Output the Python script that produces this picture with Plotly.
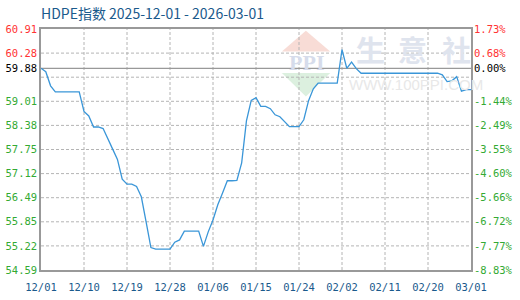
import plotly.graph_objects as go
import pandas as pd

title_text = "HDPE指数 2025-12-01 - 2026-03-01"
dates = pd.date_range("2025-12-01", "2026-03-01", freq="D")
values = [
    59.88, 59.79, 59.42, 59.26, 59.26, 59.26, 59.26, 59.26, 59.26, 58.75,
    58.63, 58.34, 58.34, 58.30, 58.01, 57.76, 57.49, 56.97, 56.84, 56.84,
    56.78, 56.51, 55.85, 55.18, 55.14, 55.14, 55.14, 55.14, 55.32, 55.38,
    55.61, 55.61, 55.61, 55.61, 55.21, 55.59, 55.90, 56.30, 56.61, 56.93,
    56.93, 56.94, 57.40, 58.50, 59.04, 59.11, 58.88, 58.88, 58.82, 58.66,
    58.61, 58.49, 58.35, 58.35, 58.35, 58.53, 59.03, 59.34, 59.49, 59.49,
    59.49, 59.49, 59.49, 60.37, 59.88, 60.04, 59.87, 59.75, 59.75, 59.75,
    59.75, 59.75, 59.75, 59.75, 59.75, 59.75, 59.75, 59.75, 59.75, 59.75,
    59.75, 59.75, 59.75, 59.75, 59.71, 59.53, 59.55, 59.66, 59.28, 59.32,
    59.32,
]
base_value = 59.88
y_min, y_max = 54.59, 60.91
grid_vals = [55.222, 55.854, 56.486, 57.118, 57.75, 58.382, 59.014, 59.646, 60.278]
left_tick_vals = [60.91, 60.278, 59.88, 59.014, 58.382, 57.75, 57.118, 56.486, 55.854, 55.222, 54.59]
left_tick_text = ["60.91", "60.28", "59.88", "59.01", "58.38", "57.75", "57.12", "56.49", "55.85", "55.22", "54.59"]
right_tick_text = ["1.73%", "0.68%", "0.00%", "-1.44%", "-2.49%", "-3.55%", "-4.60%", "-5.66%", "-6.72%", "-7.77%", "-8.83%"]
x_tick_dates = ["2025-12-01", "2025-12-10", "2025-12-19", "2025-12-28", "2026-01-06", "2026-01-15",
                "2026-01-24", "2026-02-02", "2026-02-11", "2026-02-20", "2026-03-01"]
x_tick_text = ["12/01", "12/10", "12/19", "12/28", "01/06", "01/15", "01/24", "02/02", "02/11", "02/20", "03/01"]

RED, GREEN, BLACK = "#ff3333", "#33aa33", "#000000"


def colored(vals, texts):
    out = []
    for v, t in zip(vals, texts):
        c = BLACK if abs(v - base_value) < 1e-6 else (RED if v > base_value else GREEN)
        out.append(f"<span style='color:{c}'>{t}</span>")
    return out


MONO = "DejaVu Sans Mono"
GRID = "#b4b4b4"
L, R, T, B = 41, 470.7, 29.3, 270.0


def px(x, y):
    return (x - L) / (R - L), (B - y) / (B - T)


fig = go.Figure()

# dashed gridlines, one trace per line
for g in grid_vals:
    fig.add_trace(go.Scatter(x=[dates[0], dates[-1]], y=[g, g], mode="lines",
                             line=dict(color=GRID, width=1, dash="3px,2px"), hoverinfo="skip"))
for d in x_tick_dates[1:-1]:
    fig.add_trace(go.Scatter(x=[d, d], y=[y_min, y_max], mode="lines",
                             line=dict(color=GRID, width=1, dash="3px,2px"), hoverinfo="skip"))
# base line
fig.add_trace(go.Scatter(x=[dates[0], dates[-1]], y=[base_value, base_value], mode="lines",
                         line=dict(color="#999999", width=1.2), hoverinfo="skip"))
# series
fig.add_trace(go.Scatter(x=dates, y=values, mode="lines",
                         line=dict(color="#3a96d8", width=1.3), hoverinfo="skip"))
fig.add_trace(go.Scatter(x=[dates[0]], y=[values[0]], yaxis="y2", mode="markers",
                         marker=dict(opacity=0), hoverinfo="skip"))

shapes = []
# watermark logo
ax, ay = px(305.7, 31); bx, by = px(281.7, 51.7); cx, cy = px(330, 51.7)
shapes.append(dict(type="path", xref="paper", yref="paper", layer="below",
                   path=f"M {ax} {ay} L {bx} {by} L {cx} {cy} Z",
                   fillcolor="#f8dcd6", line=dict(width=0)))
ax, ay = px(281.7, 73.3); bx, by = px(330, 73.3); cx, cy = px(305.7, 96.7)
shapes.append(dict(type="path", xref="paper", yref="paper", layer="below",
                   path=f"M {ax} {ay} L {bx} {by} L {cx} {cy} Z",
                   fillcolor="#dcf0df", line=dict(width=0)))

annotations = []
wx, wy = px(306, 62.5)
annotations.append(dict(x=wx, y=wy, xref="paper", yref="paper", xanchor="center", yanchor="middle",
                        text="<b>PPI</b>", showarrow=False,
                        font=dict(family="Liberation Serif", size=22, color="#d6dceb")))
for ch, cxp in zip("生意社", [370, 412, 456]):
    x_, y_ = px(cxp, 49)
    annotations.append(dict(x=x_, y=y_, xref="paper", yref="paper", xanchor="center", yanchor="middle",
                            text=f"<b>{ch}</b>", showarrow=False,
                            font=dict(family="Noto Sans CJK SC", size=29, color="#dfe4ee")))
x_, y_ = px(416, 85)
annotations.append(dict(x=x_, y=y_, xref="paper", yref="paper", xanchor="center", yanchor="middle",
                        text="WWW.100PPI.COM", showarrow=False,
                        font=dict(family="Liberation Sans", size=15, color="#e8e8e8")))

fig.update_layout(
    width=520, height=300,
    margin=dict(l=41, r=49.3, t=29.3, b=30),
    paper_bgcolor="white", plot_bgcolor="rgba(0,0,0,0)",
    showlegend=False,
    title=dict(text=title_text, x=41 / 520, xanchor="left", y=1 - 14 / 300, yanchor="middle",
               font=dict(family="Noto Sans CJK SC", size=14, color="#1a5a8c")),
    xaxis=dict(type="date", range=[dates[0], dates[-1]],
               tickvals=x_tick_dates, ticktext=x_tick_text, automargin=False,
               showgrid=False,
               showline=True, linecolor="#999999", linewidth=1.5, mirror=True,
               ticks="", ticklabelstandoff=7,
               tickfont=dict(family=MONO, size=10.5, color="#1a5a8c"), zeroline=False),
    yaxis=dict(range=[y_min, y_max], tickvals=left_tick_vals, ticktext=colored(left_tick_vals, left_tick_text),
               showgrid=False, showline=True, linecolor="#999999", linewidth=1.5, mirror=True,
               automargin=False,
               ticks="", tickfont=dict(family=MONO, size=10.5), zeroline=False),
    yaxis2=dict(range=[y_min, y_max], overlaying="y", side="right", automargin=False,
                tickvals=left_tick_vals, ticktext=colored(left_tick_vals, right_tick_text),
                showgrid=False, showline=False, ticks="", ticklabelstandoff=2,
                tickfont=dict(family=MONO, size=10.5), zeroline=False),
    shapes=shapes, annotations=annotations,
)

fig.write_html("out.html")
